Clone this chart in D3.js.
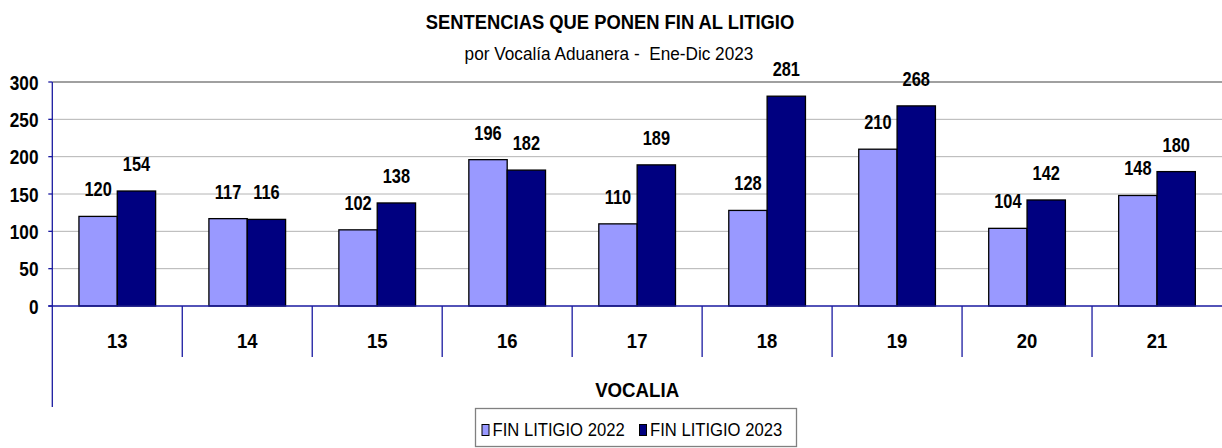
<!DOCTYPE html>
<html>
<head>
<meta charset="utf-8">
<script src="https://cdn.jsdelivr.net/npm/d3@7"></script>
<style>
  body { margin: 0; background: #fff; }
  svg { display: block; font-family: "Liberation Sans", Arial, sans-serif; }
  text { white-space: pre; }
</style>
</head>
<body>
<div id="chart"></div>
<script>
// values
const vocalias = ["13", "14", "15", "16", "17", "18", "19", "20", "21"];
const series = ["FIN LITIGIO 2022", "FIN LITIGIO 2023"];
const litigio2022 = [120, 117, 102, 196, 110, 128, 210, 104, 148];
const litigio2023 = [154, 116, 138, 182, 189, 281, 268, 142, 180];
const yTicks = [0, 50, 100, 150, 200, 250, 300];

const width = 1222, height = 448,
    margin = ({ top: 82, right: 0, bottom: 142, left: 52.3 });

const colors = ["#9999ff", "#000080"];
const axisBlue = "#1a1aa0";

const svg = d3.select("#chart")
    .append("svg")
    .attr("width", width)
    .attr("height", height);

// small helper: text squeezed horizontally (the picture is narrower than arial)
function label(g, x, y, txt, size, weight, anchor, squeeze) {
    return g.append("text")
        .attr("transform", `translate(${x},${y}) scale(${squeeze || 0.82},1)`)
        .attr("text-anchor", anchor || "middle")
        .attr("font-size", size)
        .attr("font-weight", weight || "normal")
        .attr("fill", "#000")
        .text(txt);
}

let x0 = d3.scaleBand()
    .domain(vocalias)
    .range([margin.left, width - margin.right]);

let gap = x0.bandwidth() * 0.205;
let x1 = d3.scaleBand()
    .domain(series)
    .range([gap, x0.bandwidth() - gap]);

let y = d3.scaleLinear()
    .domain([0, 300])
    .range([height - margin.bottom, margin.top]);

// gridlines
svg.append("g")
    .selectAll("line")
    .data(yTicks.filter(d => d > 0))
    .join("line")
    .attr("x1", margin.left)
    .attr("x2", width)
    .attr("y1", d => y(d))
    .attr("y2", d => y(d))
    .attr("stroke", d => d === 300 ? "#808080" : "#b4b4b4")
    .attr("stroke-width", d => d === 300 ? 1.5 : 1);

// bars
const rows = vocalias.map((v, i) => ({ v, vals: [litigio2022[i], litigio2023[i]] }));

let groups = svg.append("g")
    .selectAll("g")
    .data(rows)
    .join("g")
    .attr("transform", d => `translate(${x0(d.v)},0)`);

groups.selectAll("rect")
    .data(d => d.vals.map((val, j) => ({ s: series[j], val, j })))
    .join("rect")
    .attr("x", d => x1(d.s))
    .attr("y", d => y(d.val))
    .attr("width", x1.bandwidth())
    .attr("height", d => y(0) - y(d.val))
    .attr("fill", d => colors[d.j])
    .attr("stroke", "#000")
    .attr("stroke-width", 1.3);

// value labels
groups.each(function (d) {
    let g = d3.select(this);
    d.vals.forEach((val, j) => {
        label(g, x1(series[j]) + x1.bandwidth() / 2, y(val) - 20, val, 20, "bold");
    });
});

// axes (drawn by hand to match the excel look)
const axis = svg.append("g").attr("stroke", axisBlue).attr("stroke-width", 1.3);
axis.append("line")
    .attr("x1", margin.left).attr("x2", margin.left)
    .attr("y1", y(300)).attr("y2", 407);
axis.append("line")
    .attr("x1", margin.left - 4).attr("x2", width)
    .attr("y1", y(0)).attr("y2", y(0));
axis.selectAll(".ytick")
    .data(yTicks)
    .join("line")
    .attr("class", "ytick")
    .attr("x1", margin.left - 4).attr("x2", margin.left)
    .attr("y1", d => y(d)).attr("y2", d => y(d));
axis.selectAll(".sep")
    .data(vocalias.slice(1))
    .join("line")
    .attr("class", "sep")
    .attr("x1", d => x0(d)).attr("x2", d => x0(d))
    .attr("y1", y(0)).attr("y2", 357);

// tick labels
yTicks.forEach(t => label(svg, 38.5, y(t) + 7.5, t, 21, "bold", "end"));
vocalias.forEach(v => label(svg, x0(v) + x0.bandwidth() / 2, 348, v, 21, "bold", "middle", 0.88));

// titles
label(svg, 610, 29, "SENTENCIAS QUE PONEN FIN AL LITIGIO", 21, "bold", "middle", 0.875);
label(svg, 609, 60, "por Vocalía Aduanera -  Ene-Dic 2023", 18.5, "normal", "middle", 0.93);
label(svg, (margin.left + width) / 2, 396.5, "VOCALIA", 21, "bold", "middle", 0.89);

// legend
const legend = svg.append("g");
legend.append("rect")
    .attr("x", 475.5).attr("y", 408.5)
    .attr("width", 321).attr("height", 38)
    .attr("fill", "#fff")
    .attr("stroke", "#808080")
    .attr("stroke-width", 1.3);
const legX = [482, 639.5];
series.forEach((s, j) => {
    legend.append("rect")
        .attr("x", legX[j]).attr("y", 424.5)
        .attr("width", 7).attr("height", 11)
        .attr("fill", colors[j])
        .attr("stroke", "#000")
        .attr("stroke-width", 1);
    label(legend, legX[j] + 10.5, 436, s, 18.5, "normal", "start", 0.9);
});
</script>
</body>
</html>
